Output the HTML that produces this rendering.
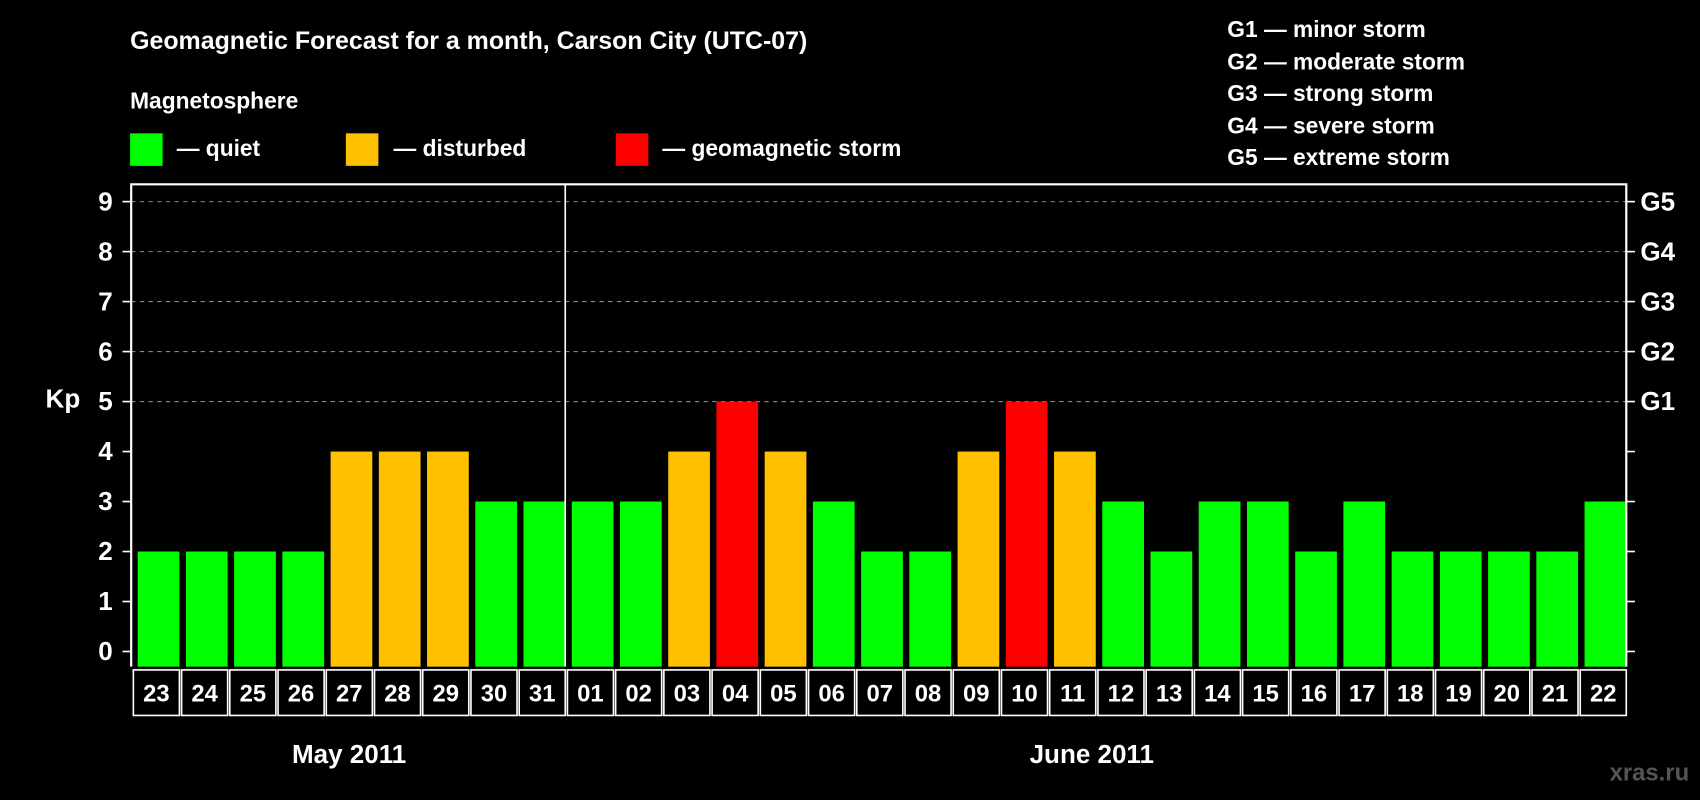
<!DOCTYPE html>
<html><head><meta charset="utf-8"><style>
html,body{margin:0;padding:0;background:#000;}
svg{display:block;font-family:"Liberation Sans",Arial,sans-serif;font-weight:bold;}
</style></head><body>
<svg id="chart" width="1700" height="800" viewBox="0 0 1568 738" preserveAspectRatio="none" xmlns="http://www.w3.org/2000/svg">
<rect x="0" y="0" width="1568" height="738" fill="#000"/>
<text x="120" y="45" fill="#fff" font-size="23">Geomagnetic Forecast for a month, Carson City (UTC-07)</text>
<text x="120" y="100" fill="#fff" font-size="21">Magnetosphere</text>
<g><rect x="120" y="123" width="30" height="30" fill="#00ff00"/><text x="163" y="144" fill="#fff" font-size="21">— quiet</text></g>
<g><rect x="319" y="123" width="30" height="30" fill="#ffc000"/><text x="363" y="144" fill="#fff" font-size="21">— disturbed</text></g>
<g><rect x="568" y="123" width="30" height="30" fill="#ff0000"/><text x="611" y="144" fill="#fff" font-size="21">— geomagnetic storm</text></g>
<g fill="#fff" font-size="21">
<text x="1132" y="34">G1 — minor storm</text>
<text x="1132" y="64">G2 — moderate storm</text>
<text x="1132" y="93">G3 — strong storm</text>
<text x="1132" y="123">G4 — severe storm</text>
<text x="1132" y="152">G5 — extreme storm</text>
</g>
<text x="58" y="376" fill="#fff" font-size="24" text-anchor="middle">Kp</text>
<g id="plot"></g>
<text x="322" y="704" fill="#fff" font-size="24" text-anchor="middle">May 2011</text>
<text x="1007" y="704" fill="#fff" font-size="24" text-anchor="middle">June 2011</text>
<text x="1558" y="720" fill="#555" font-size="22" text-anchor="end">xras.ru</text>
</svg>
<script>
const days = ["23","24","25","26","27","28","29","30","31","01","02","03","04","05","06","07","08","09","10","11","12","13","14","15","16","17","18","19","20","21","22"];
const kpValues = [2,2,2,2,4,4,4,3,3,3,3,4,5,4,3,2,2,4,5,4,3,2,3,3,2,3,2,2,2,2,3];
const yTicks = [0,1,2,3,4,5,6,7,8,9];
const gLabels = ["G1","G2","G3","G4","G5"];
const NS = "http://www.w3.org/2000/svg";
const g = document.getElementById('plot');
const L = 121, R = 1500, T = 170, B = 615;
const slot = (R - L) / days.length;
const y = v => 601 - v * (601 - 186) / 9;
const x = i => L + i * slot;
function mk(tag, attrs, parent) { const e = document.createElementNS(NS, tag); for (const k in attrs) e.setAttribute(k, attrs[k]); (parent || g).appendChild(e); return e; }
// gridlines & ticks
yTicks.forEach(v => {
  if (v >= 5) {
    const gl = mk('line', {x1: L, x2: R, y1: y(v), y2: y(v), stroke: '#888', 'stroke-dasharray': '4,4', 'stroke-width': 1});
    
    
  }
  mk('line', {x1: L - 8, x2: L, y1: y(v), y2: y(v), stroke: '#fff', 'stroke-width': 1.5});
  mk('line', {x1: R, x2: R + 8, y1: y(v), y2: y(v), stroke: '#fff', 'stroke-width': 1.5});
  const t = mk('text', {x: 104, y: y(v) + 8, fill: '#fff', 'font-size': 24, 'text-anchor': 'end'});
  t.textContent = v;
  
  
});
gLabels.forEach((lab, i) => {
  const t = mk('text', {x: 1513, y: y(5 + i) + 8, fill: '#fff', 'font-size': 24});
  t.textContent = lab;
  
  
});
// bars
const col = v => v >= 5 ? '#ff0000' : (v === 4 ? '#ffc000' : '#00ff00');
kpValues.forEach((v, i) => {
  const b = mk('rect', {x: x(i) + 6, y: y(v), width: slot - 6, height: B - y(v), fill: col(v)});
  
  
});
// frame
const fr = mk('polyline', {points: `${L},${B} ${L},${T} ${R},${T} ${R},${B}`, fill: 'none', stroke: '#fff', 'stroke-width': 2});


// month divider
const mi = days.indexOf("01");
const dv = mk('line', {x1: x(mi), x2: x(mi), y1: T, y2: B, stroke: '#fff', 'stroke-width': 1.5});


// date boxes
days.forEach((d, i) => {
  const r = mk('rect', {x: x(i) + 2, y: 618, width: slot - 2, height: 42, fill: 'none', stroke: '#fff', 'stroke-width': 1.5});
  
  
  const t = mk('text', {x: x(i) + 1 + slot / 2, y: 647, fill: '#fff', 'font-size': 22, 'text-anchor': 'middle'});
  t.textContent = d;
  
  
});
</script>
</body></html>
